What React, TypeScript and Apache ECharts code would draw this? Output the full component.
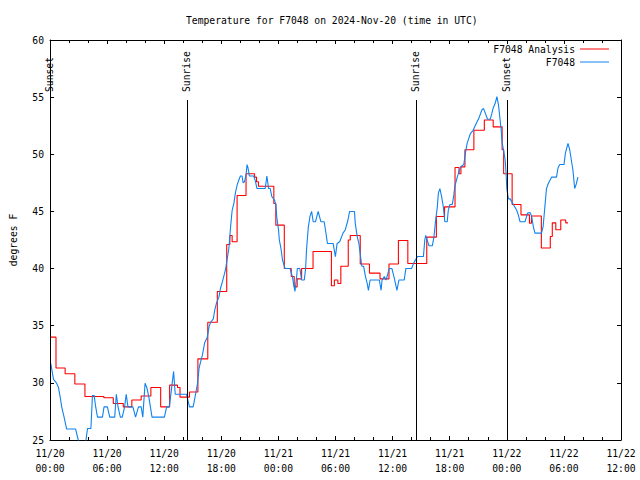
import React, { useEffect, useRef } from 'react';
import * as echarts from 'echarts';

const FONT = '"DejaVu Sans Mono", "Liberation Mono", monospace';
const FS = 9.7;

const TITLE = 'Temperature for F7048 on 2024-Nov-20 (time in UTC)';
const Y_NAME = 'degrees F';
const Y_MIN = 25;
const Y_MAX = 60;
const X_MIN = 0;
const X_MAX = 60;
const MONTH = 11;
const START_DAY = 20;

// Analysis series (hours since 11/20 00:00 UTC, value holds until next hour entry)
const RED_NAME = 'F7048 Analysis';
const RED_HOURS = [0, 0.63, 1.59, 2.61, 3.67, 5.66, 6.65, 7.7, 8.6, 9.58, 10.6, 11.63, 12.57, 13.4, 13.66, 14.66, 15.54, 16.58, 17.58, 18.57, 18.9, 19.14, 19.66, 20.6, 21.49, 21.7, 21.9, 23.52, 23.73, 24.62, 25.35, 25.66, 25.97, 26.44, 27.64, 29.57, 29.88, 30.25, 30.56, 31.34, 31.55, 32.6, 33.57, 34.68, 35.62, 36.61, 37.6, 39.59, 40.6, 41.46, 42.56, 42.98, 43.18, 43.6, 44.54, 45.64, 46.57, 47.51, 47.67, 48.56, 49.49, 50.38, 50.59, 51.63, 52.57, 52.78, 53.15, 53.67, 54.19, 54.43];
const RED_VALUES = [34.0, 31.3, 30.8, 29.9, 28.8, 28.7, 28.2, 27.9, 28.5, 28.85, 29.6, 27.9, 29.8, 29.6, 28.75, 29.2, 32.1, 35.3, 38.0, 42.1, 42.9, 42.35, 46.4, 48.3, 48.0, 47.6, 47.2, 45.7, 43.8, 40.0, 39.3, 38.4, 39.1, 40.0, 41.5, 38.5, 39.0, 38.7, 40.2, 42.5, 42.9, 40.4, 39.6, 39.1, 40.4, 42.45, 40.45, 42.75, 44.55, 45.4, 48.85, 48.3, 48.9, 50.4, 52.1, 53.0, 52.4, 50.4, 48.3, 45.6, 44.7, 43.96, 44.6, 41.8, 42.8, 44.0, 43.4, 44.25, 44.0, 44.0];

// Observed series
const BLUE_NAME = 'F7048';
const BLUE_HOURS = [0.08, 0.37, 0.68, 0.89, 1.06, 1.23, 1.48, 1.75, 2.69, 2.97, 3.39, 3.78, 3.94, 4.3, 4.46, 4.64, 4.78, 4.99, 5.51, 5.68, 6.03, 6.28, 6.8, 6.97, 7.15, 7.39, 7.59, 7.84, 8.01, 8.19, 8.71, 8.99, 9.3, 9.58, 9.75, 9.99, 10.17, 10.38, 10.72, 12.02, 12.26, 12.54, 12.99, 13.16, 14.34, 14.66, 15.04, 15.25, 15.49, 15.67, 15.83, 16.01, 16.25, 16.53, 16.71, 16.88, 17.16, 17.32, 17.5, 17.75, 17.92, 18.1, 18.44, 18.8, 18.96, 19.14, 19.32, 19.48, 19.66, 19.84, 20.01, 20.18, 20.29, 20.44, 20.6, 20.71, 20.81, 20.95, 21.4, 21.57, 21.75, 22.61, 22.79, 22.97, 23.14, 23.31, 23.59, 23.73, 23.83, 24.01, 24.1, 24.28, 24.43, 24.7, 25.22, 25.47, 25.58, 25.74, 25.92, 25.99, 26.26, 26.44, 26.72, 26.86, 26.96, 27.14, 27.31, 27.49, 27.66, 27.9, 28.18, 28.46, 28.81, 28.98, 29.15, 29.75, 29.99, 30.17, 30.44, 30.79, 31.03, 31.31, 31.48, 32.0, 32.07, 32.28, 32.46, 32.63, 32.77, 32.96, 33.15, 33.33, 33.46, 33.64, 34.61, 34.79, 34.89, 35.13, 35.31, 35.65, 35.93, 36.14, 36.46, 36.66, 37.22, 37.39, 37.99, 38.23, 38.62, 39.24, 39.38, 39.48, 39.82, 40.18, 40.35, 40.49, 40.7, 40.81, 40.97, 41.15, 41.33, 41.49, 41.74, 41.85, 42.02, 42.27, 42.43, 42.54, 42.79, 43.13, 43.48, 43.65, 43.83, 44.17, 44.46, 44.87, 45.04, 45.39, 45.56, 45.74, 45.98, 46.26, 46.44, 46.55, 46.78, 46.96, 47.13, 47.3, 47.41, 47.51, 47.65, 47.83, 47.93, 48.0, 48.17, 48.35, 48.69, 49.04, 49.21, 49.39, 49.91, 50.19, 50.43, 50.61, 50.78, 50.96, 51.65, 51.82, 52.0, 52.17, 52.34, 52.7, 53.22, 53.38, 53.56, 54.01, 54.16, 54.43, 54.61, 54.78, 54.95, 55.13, 55.3, 55.47];
const BLUE_VALUES = [31.7, 30.3, 30.0, 29.6, 28.8, 27.9, 27.0, 25.96, 25.96, 25.0, 24.3, 25.0, 26.0, 26.0, 28.9, 28.9, 28.0, 27.0, 27.0, 27.9, 27.9, 27.0, 27.0, 29.0, 27.9, 27.0, 27.0, 27.9, 29.0, 27.9, 27.9, 27.0, 27.9, 27.9, 27.0, 29.96, 29.6, 28.8, 27.0, 27.0, 27.9, 27.9, 31.0, 29.0, 29.0, 27.9, 27.9, 28.8, 29.9, 31.3, 31.85, 32.4, 33.5, 34.0, 34.9, 35.3, 35.6, 36.4, 37.0, 37.5, 38.3, 38.8, 39.9, 41.8, 43.5, 45.1, 45.7, 46.6, 47.3, 47.75, 48.1, 48.1, 47.5, 47.6, 48.2, 49.1, 48.8, 48.1, 48.1, 47.7, 47.0, 47.0, 48.1, 47.0, 47.0, 46.3, 46.0, 45.6, 44.5, 43.4, 42.5, 41.7, 40.75, 40.0, 40.0, 39.3, 38.7, 38.0, 39.3, 40.0, 40.0, 39.0, 39.0, 40.0, 41.7, 43.6, 44.55, 45.0, 44.1, 44.1, 45.0, 44.1, 44.1, 43.2, 42.2, 42.2, 41.05, 42.2, 42.35, 43.1, 43.4, 44.25, 45.0, 45.0, 44.0, 42.8, 42.2, 41.05, 40.2, 40.2, 39.3, 38.7, 38.1, 39.0, 39.0, 38.1, 39.0, 39.3, 39.0, 40.0, 40.0, 39.3, 38.1, 39.0, 39.0, 40.0, 40.0, 40.5, 41.05, 41.05, 42.5, 42.9, 42.0, 42.0, 42.8, 44.0, 45.4, 46.6, 47.0, 46.3, 45.4, 44.1, 44.1, 45.1, 45.6, 45.6, 46.4, 47.2, 48.0, 48.9, 49.1, 50.1, 50.96, 51.8, 52.1, 52.85, 53.1, 53.9, 54.0, 53.6, 53.06, 53.06, 53.6, 54.0, 54.46, 55.04, 54.3, 53.0, 52.1, 50.96, 50.4, 49.5, 48.3, 47.0, 46.1, 46.1, 45.6, 45.1, 44.7, 44.1, 44.1, 44.85, 44.9, 44.6, 43.7, 43.1, 43.1, 43.7, 45.4, 47.0, 47.4, 48.0, 48.0, 48.8, 49.1, 49.1, 50.1, 50.96, 50.4, 49.5, 48.6, 47.0, 47.4, 48.0];

// Sun events
const SUN_HOURS = [0, 14.4, 38.43, 48.0];
const SUN_LABELS = ['Sunset', 'Sunrise', 'Sunrise', 'Sunset'];
const SUN_LINE_TOP = 54.75;

const pad = (n: number) => (n < 10 ? '0' + n : '' + n);
const fmtX = (v: number) => {
  const day = START_DAY + Math.floor(v / 24);
  const hh = Math.round(v % 24);
  return `${MONTH}/${day}\n${pad(hh)}:00`;
};

export default function App() {
  const ref = useRef<HTMLDivElement>(null);
  useEffect(() => {
    const chart = echarts.init(ref.current!, null, { renderer: 'svg' });
    const textBase = { fontFamily: FONT, fontSize: FS, color: '#000' };
    const xBase: any = {
      type: 'value',
      min: X_MIN,
      max: X_MAX,
      interval: 6,
      axisLine: { onZero: false, lineStyle: { color: '#000', width: 1 } },
      axisTick: { inside: true, length: 4, lineStyle: { color: '#000', width: 1 } },
      minorTick: { show: true, splitNumber: 3, length: 3, lineStyle: { color: '#000', width: 1 } },
      splitLine: { show: false },
    };
    const yBase: any = {
      type: 'value',
      min: Y_MIN,
      max: Y_MAX,
      interval: 5,
      axisLine: { show: true, onZero: false, lineStyle: { color: '#000', width: 1 } },
      axisTick: { show: true, inside: true, length: 4, lineStyle: { color: '#000', width: 1 } },
      splitLine: { show: false },
    };
    const option: any = {
      animation: false,
      backgroundColor: '#fff',
      title: {
        text: TITLE,
        left: 186,
        top: 14,
        padding: 0,
        textStyle: { ...textBase, fontWeight: 'normal', lineHeight: 12 },
      },
      legend: [
        {
          data: [RED_NAME],
          right: 31,
          top: 43,
          padding: 0,
          align: 'right',
          icon: 'rect',
          itemWidth: 29,
          itemHeight: 1,
          textStyle: { ...textBase, lineHeight: 12 },
          selectedMode: false,
        },
        {
          data: [BLUE_NAME],
          right: 31,
          top: 56,
          padding: 0,
          align: 'right',
          icon: 'rect',
          itemWidth: 29,
          itemHeight: 1,
          textStyle: { ...textBase, lineHeight: 12 },
          selectedMode: false,
        },
      ],
      grid: { left: 46, right: 19, top: 40, bottom: 40, containLabel: false },
      xAxis: [
        {
          ...xBase,
          position: 'bottom',
          axisLabel: {
            ...textBase,
            margin: 6,
            lineHeight: 15,
            showMinLabel: true,
            showMaxLabel: true,
            formatter: (v: number) => fmtX(v),
          },
        },
        { ...xBase, position: 'top', axisLabel: { show: false } },
      ],
      yAxis: [
        {
          ...yBase,
          position: 'left',
          name: Y_NAME,
          nameLocation: 'middle',
          nameGap: 32,
          nameRotate: 90,
          nameTextStyle: { ...textBase },
          axisLabel: { ...textBase, margin: 6 },
        },
        { ...yBase, position: 'right', axisLabel: { show: false } },
      ],
      series: [
        {
          name: RED_NAME,
          type: 'line',
          step: 'end',
          showSymbol: false,
          symbol: 'none',
          color: '#ff0000',
          lineStyle: { color: '#ff0000', width: 1.1 },
          data: RED_HOURS.map((h, i) => [h, RED_VALUES[i]]),
          clip: true,
          z: 2,
        },
        {
          name: BLUE_NAME,
          type: 'line',
          showSymbol: false,
          symbol: 'none',
          color: '#0f82f0',
          lineStyle: { color: '#0f82f0', width: 1.1 },
          data: BLUE_HOURS.map((h, i) => [h, BLUE_VALUES[i]]),
          clip: true,
          z: 3,
        },
        {
          name: 'sun',
          type: 'custom',
          silent: true,
          z: 4,
          data: SUN_HOURS.map((h) => [h, Y_MIN]),
          renderItem: (params: any, api: any) => {
            const h = api.value(0);
            const bottom = api.coord([h, Y_MIN]);
            const top = api.coord([h, SUN_LINE_TOP]);
            const x = Math.round(bottom[0]) + 0.5;
            return {
              type: 'group',
              children: [
                {
                  type: 'line',
                  shape: { x1: x, y1: Math.round(top[1]), x2: x, y2: bottom[1] },
                  style: { stroke: '#000', lineWidth: 1 },
                },
                {
                  type: 'text',
                  x: x - 1.5,
                  y: top[1] - 8,
                  rotation: Math.PI / 2,
                  style: {
                    text: SUN_LABELS[params.dataIndex],
                    fill: '#000',
                    fontFamily: FONT,
                    fontSize: FS,
                    align: 'left',
                    verticalAlign: 'middle',
                  },
                },
              ],
            };
          },
        },
      ],
    };
    chart.setOption(option);
    return () => chart.dispose();
  }, []);
  return <div ref={ref} style={{ position: 'absolute', left: 0, top: 0, width: 640, height: 480 }} />;
}
